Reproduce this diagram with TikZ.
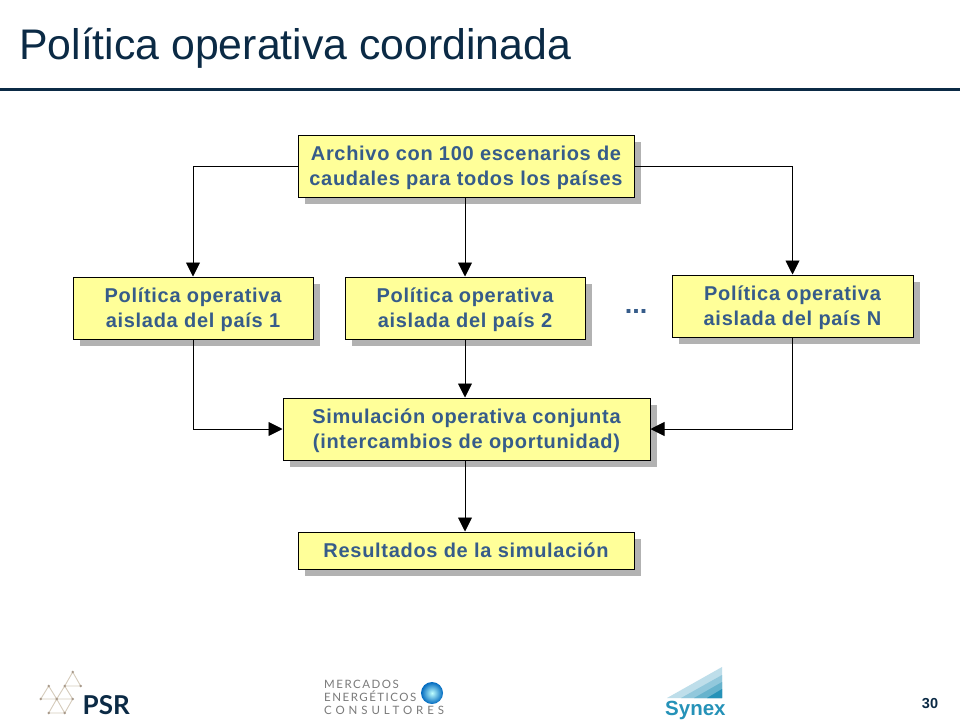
\documentclass[tikz,border=0pt]{standalone}
\usepackage{fontspec}
\setmainfont{Liberation Sans}
\newfontfamily\boxfont[LetterSpace=3.5]{Liberation Sans}
\newfontfamily\mecfont[LetterSpace=13]{Lato}
\newfontfamily\mecwide[LetterSpace=34]{Lato}
\newfontfamily\psrfont{Lato}
\usetikzlibrary{arrows.meta,shadows,calc}
\definecolor{navy}{HTML}{0B2A45}
\definecolor{boxtext}{HTML}{365C8A}
\definecolor{boxfill}{HTML}{FFFF99}
\definecolor{shadowgray}{HTML}{B2B2B2}
\definecolor{tan}{HTML}{D6CCBC}
\definecolor{tandark}{HTML}{A8998A}
\definecolor{syn}{HTML}{2592B8}
\definecolor{meca}{HTML}{7A7A7A}
\tikzset{
  flowbox/.style={draw=black,line width=1pt,fill=boxfill,text=boxtext,align=center,inner sep=0pt,
    font=\boxfont\bfseries\fontsize{20}{25}\selectfont,
    drop shadow={shadow xshift=7pt,shadow yshift=-7pt,fill=shadowgray,opacity=1}},
  link/.style={draw=black,line width=0.9pt,-{Triangle[length=14pt,width=14pt]}},
  tanline/.style={draw=tan,line width=0.9pt,line join=round},
  logotext/.style={anchor=base west,inner sep=0pt},
}
\begin{document}
\begin{tikzpicture}[x=1pt,y=-1pt]
\useasboundingbox[fill=white] (0,0) rectangle (960,720);
% title
\node[logotext,text=navy,font=\fontsize{42.8}{46}\selectfont] (title) at (19,59) {Política operativa coordinada};
\fill[navy] (0,88) rectangle (960,91);
% boxes
\node[flowbox,minimum width=336pt,minimum height=62pt] (arch) at (466,166) {\mbox{}\\[-6.5pt]Archivo con 100 escenarios de\\caudales para todos los países};
\node[flowbox,minimum width=240pt,minimum height=62pt] (p1) at (193,308) {\mbox{}\\[-6.5pt]Política operativa\\aislada del país 1};
\node[flowbox,minimum width=240pt,minimum height=62pt] (p2) at (465,308) {\mbox{}\\[-6.5pt]Política operativa\\aislada del país 2};
\node[flowbox,minimum width=241pt,minimum height=62pt] (pn) at (792.5,306) {\mbox{}\\[-6.5pt]Política operativa\\aislada del país N};
\node[flowbox,minimum width=367pt,minimum height=62pt] (sim) at (466.5,429) {\mbox{}\\[-6.5pt]Simulación operativa conjunta\\(intercambios de oportunidad)};
\node[flowbox,minimum width=336pt,minimum height=37pt] (res) at (466,550.5) {Resultados de la simulación};
\node[text=boxtext,font=\bfseries\fontsize{27}{30}\selectfont,anchor=base,inner sep=0pt] (dots) at (636,313.5) {...};
% connectors
\draw[link] (arch.west) -| (p1.north);
\draw[link] (arch.east) -| (pn.north);
\draw[link] (p2.north |- arch.south) -- (p2.north);
\draw[link] (p1.south) |- (sim.west);
\draw[link] (pn.south) |- (sim.east);
\draw[link] (p2.south) -- (p2.south |- sim.north);
\draw[link] (p2.north |- sim.south) -- (p2.north |- res.north);
% page number
\node[anchor=base,inner sep=0pt,text=navy,font=\bfseries\fontsize{14.5}{16}\selectfont] (page) at (930,708) {30};
% PSR logo
\draw[tanline] (72.7,672) -- (64.7,686) -- (80.7,686) -- cycle
  (48.7,686) -- (40.7,699) -- (72.7,699) -- (64.7,686) -- (56.7,699) -- (48.7,686)
  (56.7,699) -- (48.7,713) -- (64.7,713) -- (72.7,699) (56.7,699) -- (64.7,713);
\foreach \p in {(72.7,672),(64.7,686),(80.7,686),(48.7,686),(40.7,699),(56.7,699),(72.7,699),(48.7,713),(64.7,713)}
  \fill[tandark] \p circle (1.4);
\node[logotext,text=navy,font=\psrfont\bfseries\fontsize{26}{30}\selectfont] (psr) at (82.5,714) {PSR};
% Mercados logo
\node[logotext,text=meca,font=\mecfont\fontsize{11.5}{13}\selectfont] (m1) at (324,688) {MERCADOS};
\node[logotext,text=meca,font=\mecfont\fontsize{11.5}{13}\selectfont] (m2) at (324,701) {ENERGÉTICOS};
\node[logotext,text=meca,font=\mecwide\fontsize{11.5}{13}\selectfont] (m3) at (324,714) {CONSULTORES};
\shade[inner color=cyan!25!white,outer color=blue!45!cyan!75!black] (432,693) circle (11);
% Synex logo
\fill[syn!30] (667,698) -- (722,667) -- (722,698) -- cycle;
\fill[syn!50] (681,698) -- (722,675) -- (722,698) -- cycle;
\fill[syn!70] (694,698) -- (722,682) -- (722,698) -- cycle;
\fill[syn] (707,698) -- (722,689) -- (722,698) -- cycle;
\node[logotext,text=syn,font=\bfseries\fontsize{20.5}{24}\selectfont] (synex) at (665,715) {Synex};
\end{tikzpicture}
\end{document}
